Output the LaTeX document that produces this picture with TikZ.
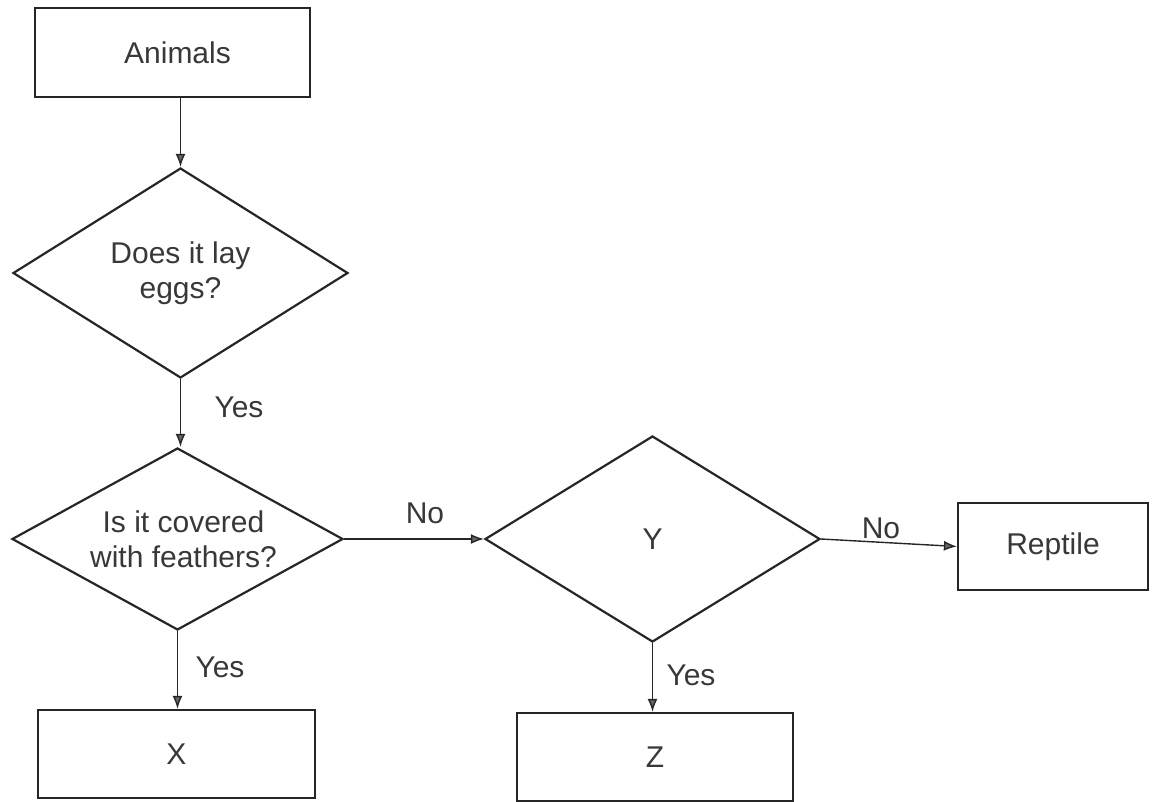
\documentclass[tikz,border=0pt]{standalone}
\usepackage{fontspec}
\setmainfont{Liberation Sans}
\usetikzlibrary{shapes.geometric,arrows.meta}
\definecolor{ink}{HTML}{262626}
\definecolor{txt}{HTML}{383838}
\tikzset{
  box/.style={draw=ink, line width=2.2pt, rectangle, inner sep=0pt, text=txt,
    font=\fontsize{30}{35}\selectfont},
  decision/.style={draw=ink, line width=2.2pt, diamond, inner sep=0pt, text=txt,
    align=center, font=\fontsize{30}{35}\selectfont},
  lbl/.style={inner sep=0pt, text=txt, font=\fontsize{30}{35}\selectfont},
  arr/.style={draw=ink, line width=1.4pt, -{Latex[length=13pt,width=10pt,fill=gray!80!black]}}
}
\begin{document}
\begin{tikzpicture}[x=1pt,y=-1pt]
\useasboundingbox (0,0) rectangle (1156,802);
% nodes
\node[box, minimum width=275pt, minimum height=89pt] (animals) at (172.5,52.5) {\hspace*{10pt}Animals};
\node[decision, aspect=1.6, minimum width=335pt, minimum height=210pt] (d1) at (180.5,273) {Does it lay\\eggs?};
\node[decision, aspect=1.82, minimum width=331pt, minimum height=182pt] (d2) at (177.5,539) {\hspace*{12pt}Is it covered\\\hspace*{12pt}with feathers?};
\node[decision, aspect=1.63, minimum width=335pt, minimum height=206pt] (dy) at (652.5,539) {Y};
\node[box, minimum width=190pt, minimum height=87pt] (reptile) at (1053,546.5) {Reptile};
\node[box, minimum width=277pt, minimum height=88pt] (xbox) at (176.5,754) {X};
\node[box, minimum width=276pt, minimum height=88pt] (zbox) at (655,757) {Z};
% labels
\node[lbl] (yes1) at (239,407) {Yes};
\node[lbl] (no1) at (425,513) {No};
\node[lbl] (no2) at (881,528) {No};
\node[lbl] (yes2) at (220,667) {Yes};
\node[lbl] (yes3) at (691,675) {Yes};
% connectors
\draw[arr] (d1.north |- animals.south) -- (d1.north);
\draw[arr] (d1.south) -- (d1.south |- d2.north);
\draw[arr] (d2.east) -- (dy.west);
\draw[arr] (dy.east) -- (reptile.west);
\draw[arr] (d2.south) -- (d2.south |- xbox.north);
\draw[arr] (dy.south) -- (dy.south |- zbox.north);
\end{tikzpicture}
\end{document}
